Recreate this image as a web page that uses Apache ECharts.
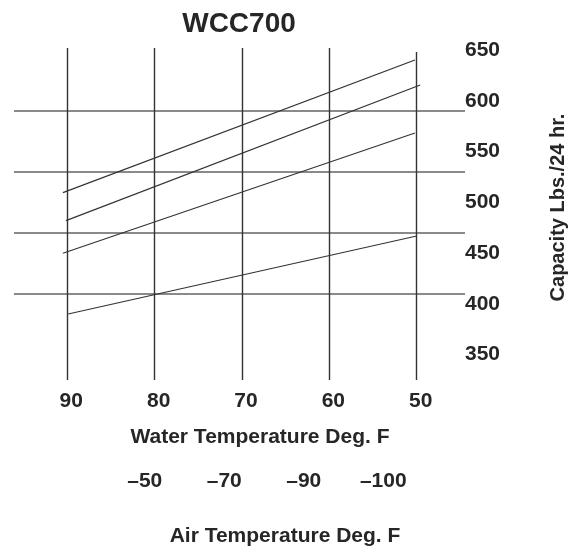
<!DOCTYPE html>
<html>
<head>
<meta charset="utf-8">
<script src="https://cdn.jsdelivr.net/npm/echarts@6/dist/echarts.min.js"></script>
<style>html,body{margin:0;padding:0;background:#fff}#c{width:573px;height:552px}</style>
</head>
<body>
<div id="c"></div>
<script>
// ---- data ----
const chartTitle = 'WCC700';
const waterTemps = [90, 80, 70, 60, 50];              // Water Temperature ticks (deg F)
const capacityTicks = [650, 600, 550, 500, 450, 400, 350]; // Capacity labels
const airTemps = ['–50', '–70', '–90', '–100'];         // Air Temperature labels
const horizontalRules = [590, 530, 470, 410];          // horizontal rules of the chart
const curve1 = [[90.5, 509.6], [50.2, 640.3]];
const curve2 = [[90.15, 482.0], [49.6, 615.7]];
const curve3 = [[90.5, 449.9], [50.2, 568.4]];
const curve4 = [[89.9, 390.0], [50.0, 466.9]];

const FONT = 'Liberation Sans, Arial, sans-serif';
const TXT = '#262626';
const chart = echarts.init(document.getElementById('c'), null, {renderer: 'canvas'});

function curve(d) {
  return {type: 'line', data: d, xAxisIndex: 0, yAxisIndex: 0, symbol: 'none', z: 5,
    lineStyle: {color: '#333', width: 1.2}, silent: true, animation: false};
}

chart.setOption({
  animation: false,
  backgroundColor: '#fff',
  title: {text: chartTitle, left: 234, top: 5, textAlign: 'center',
    textStyle: {fontFamily: FONT, fontWeight: 'bold', fontSize: 28, color: TXT}},
  grid: [
    {left: 14, right: 108, top: 46, bottom: 171, outerBoundsMode: 'none'},
    {left: 105, right: 150, top: 468, height: 2, outerBoundsMode: 'none'}
  ],
  xAxis: [
    {type: 'value', gridIndex: 0, inverse: true, min: 44.47, max: 96.10,
      axisLine: {show: false}, axisTick: {show: false}, splitLine: {show: false},
      axisLabel: {customValues: waterTemps, margin: 10, padding: [0, 0, 0, 8],
        fontFamily: FONT, fontWeight: 'bold', fontSize: 21, color: TXT},
      name: 'Water Temperature Deg. F', nameLocation: 'middle', nameGap: 46,
      nameTextStyle: {fontFamily: FONT, fontWeight: 'bold', fontSize: 21, color: TXT, padding: [0, 0, 0, 41]}},
    {type: 'category', gridIndex: 1, data: airTemps,
      axisLine: {show: false}, axisTick: {show: false}, splitLine: {show: false},
      axisLabel: {margin: 1, fontFamily: FONT, fontWeight: 'bold', fontSize: 21, color: TXT},
      name: 'Air Temperature Deg. F', nameLocation: 'middle', nameGap: 56,
      nameTextStyle: {fontFamily: FONT, fontWeight: 'bold', fontSize: 21, color: TXT, padding: [0, 0, 0, 42]}}
  ],
  yAxis: [
    {type: 'value', gridIndex: 0, position: 'right', min: 324.0, max: 654.1,
      axisLine: {show: false}, axisTick: {show: false}, splitLine: {show: false},
      axisLabel: {customValues: capacityTicks, margin: 0,
        fontFamily: FONT, fontWeight: 'bold', fontSize: 21, color: TXT},
      name: 'Capacity Lbs./24 hr.', nameLocation: 'middle', nameRotate: 90, nameGap: 83,
      nameTextStyle: {fontFamily: FONT, fontWeight: 'bold', fontSize: 20, color: TXT, padding: [0, 0, 0, 12]}},
    {type: 'value', gridIndex: 1, show: false}
  ],
  series: [
    {type: 'line', data: [], xAxisIndex: 0, yAxisIndex: 0, z: 2, silent: true,
      markLine: {silent: true, symbol: 'none', animation: false, label: {show: false},
        data: horizontalRules.map(v => ({yAxis: v, lineStyle: {color: '#8a8a8a', width: 2, type: 'solid'}}))
          .concat(waterTemps.map(v => [
            {coord: [v, v === 50 ? 648.2 : 652.1], lineStyle: {color: '#333', width: 1.4, type: 'solid'}},
            {coord: [v, 325.0]}
          ]))
      }},
    curve(curve1), curve(curve2), curve(curve3), curve(curve4)
  ]
});
</script>
</body>
</html>
